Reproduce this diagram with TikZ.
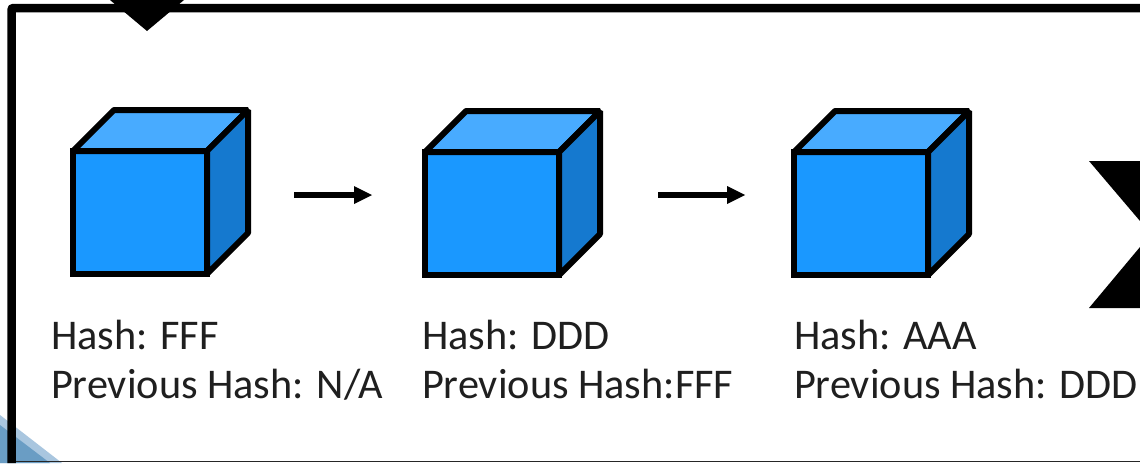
\documentclass[tikz,border=0pt]{standalone}
\usepackage{fontspec}
\setmainfont{Carlito}
\definecolor{cubefront}{HTML}{1A98FF}
\definecolor{cubetop}{HTML}{48ABFF}
\definecolor{cubeside}{HTML}{1579CF}
\definecolor{ornlight}{HTML}{A9C6DF}
\definecolor{orndark}{HTML}{6A9DC4}
\tikzset{
  frontface/.style={draw=black,fill=cubefront,line width=6pt,line join=miter,minimum width=134pt,minimum height=123pt,inner sep=0pt,outer sep=0pt,anchor=north west},
  otherface/.style={draw=black,line width=6pt,line join=bevel},
  linkarrow/.style={draw=black,line width=5.5pt},
  headtip/.style={fill=black,draw=none},
  caption/.style={anchor=base west,inner sep=0pt,outer sep=0pt,font=\fontsize{42.3pt}{49pt}\selectfont,text=black!88},
}
\newcommand{\cubeat}[3]{%
  \node[frontface] (#1) at (#2,#3) {};
  \draw[otherface,fill=cubetop] (#1.north west) -- ++(41pt,41pt) -- ++(134pt,0pt) -- (#1.north east) -- cycle;
  \draw[otherface,fill=cubeside] (#1.north east) -- ++(41pt,41pt) -- ++(0pt,-123pt) -- (#1.south east) -- cycle;
}
\newcommand{\linkfrom}[4]{%
  \coordinate (#1s) at (#2,#4);
  \coordinate (#1e) at (#3,#4);
  \path[linkarrow] (#1s) -- ([xshift=-16pt]#1e);
  \fill[headtip] (#1e) -- ++(-18pt,9pt) -- ++(0pt,-18pt) -- cycle;
}
\begin{document}
\begin{tikzpicture}[x=1pt,y=-1pt]
\useasboundingbox (0,0) rectangle (1140,463);
\fill[white] (0,0) rectangle (1140,463);
% corner ornament
\fill[ornlight] (0,415) -- (0,463) -- (62,463) -- cycle;
\fill[orndark] (0,425) -- (0,463) -- (50,463) -- cycle;
% frame
\draw[black!85,line width=1.5pt] (11,461.5) -- (1140,461.5);
\draw[black,line width=8.5pt,rounded corners=2pt] (11.5,463) -- (11.5,8) -- (1140,8);
% top marker
\node[coordinate] (topmark) at (147,31) {};
\fill[black] (110,0) -- (topmark) -- (184,0) -- cycle;
% right marker
\fill[black] (1089,161) -- (1140,161) -- (1140,221) -- cycle;
\fill[black] (1089,308) -- (1140,308) -- (1140,247) -- cycle;
% cubes
\cubeat{c1}{73}{151}
\cubeat{c2}{425}{152}
\cubeat{c3}{794}{152}
% arrows
\linkfrom{aa}{294}{372}{195}
\linkfrom{ab}{658}{745}{195}
% labels
\node[caption] (t1a) at (51,349) {Hash: FFF};
\node[caption] (t1b) at (51,398) {Previous Hash: N/A};
\node[caption] (t2a) at (422,349) {Hash: DDD};
\node[caption] (t2b) at (422,398) {Previous Hash:FFF};
\node[caption] (t3a) at (794,349) {Hash: AAA};
\node[caption] (t3b) at (794,398) {Previous Hash: DDD};
\end{tikzpicture}
\end{document}
